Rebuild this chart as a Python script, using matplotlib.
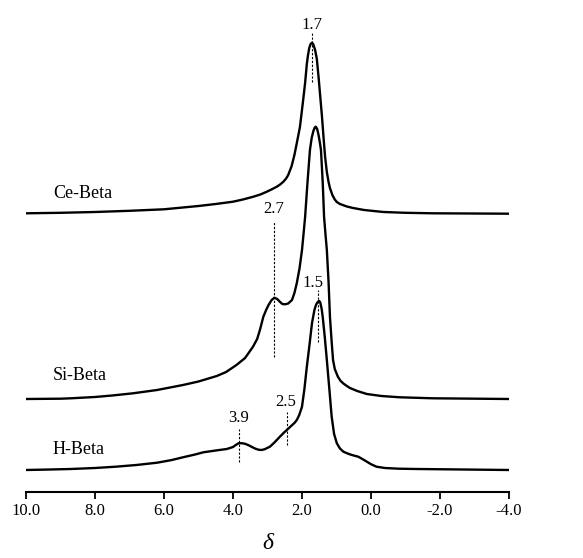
import matplotlib
matplotlib.use("Agg")
import matplotlib.pyplot as plt
from matplotlib.ticker import FuncFormatter, MultipleLocator

plt.rcParams['font.family'] = ['Liberation Serif', 'DejaVu Serif']

# chemical shift (ppm) and intensities (arbitrary units, offset stacked)
ce_x = [10.0, 9.0, 8.0, 7.0, 6.0, 5.0, 4.5, 4.0, 3.7, 3.41, 3.2, 3.02, 2.87, 2.73, 2.63, 2.54,
        2.46, 2.4, 2.3, 2.22, 2.15, 2.06, 1.98, 1.91, 1.86, 1.83, 1.79, 1.75, 1.71, 1.67, 1.62, 1.57,
        1.52, 1.47, 1.42, 1.37, 1.33, 1.28, 1.23, 1.19, 1.12, 1.05, 0.99, 0.9, 0.7, 0.52, 0.2, -0.36,
        -1.0, -1.8, -4.0]
ce_y = [278.7, 279.2, 280.0, 281.2, 282.7, 286.0, 288.0, 290.3, 292.6, 295.3, 297.6, 300.3, 302.8,
        305.3, 307.6, 310.3, 313.5, 317.0, 326.0, 337.0, 349.0, 365.0, 388.0, 409.0, 428.0, 436.0,
        444.0, 448.0, 449.3, 447.5, 442.0, 433.0, 415.0, 395.0, 375.0, 352.0, 335.0, 320.0, 310.0,
        304.0, 297.0, 292.5, 290.0, 288.0, 285.5, 284.0, 282.0, 280.0, 279.2, 278.7, 278.3]

si_x = [10.0, 9.0, 8.7, 8.0, 7.5, 6.9, 6.2, 5.45, 5.0, 4.47, 4.2, 3.9, 3.65, 3.42, 3.3, 3.22, 3.12,
        3.04, 2.97, 2.88, 2.8, 2.72, 2.65, 2.57, 2.49, 2.4, 2.29, 2.22, 2.15, 2.07, 2.0, 1.95, 1.91,
        1.84, 1.77, 1.72, 1.67, 1.63, 1.6, 1.56, 1.52, 1.48, 1.45, 1.4, 1.36, 1.32, 1.28, 1.23, 1.19,
        1.14, 1.1, 1.05, 0.96, 0.88, 0.8, 0.7, 0.61, 0.4, 0.12, -0.3, -0.84, -1.8, -4.0]
si_y = [93.0, 93.3, 93.7, 95.0, 96.5, 98.7, 102.0, 107.0, 110.5, 116.0, 120.0, 127.0, 134.0, 145.3,
        153.0, 162.0, 175.3, 182.0, 187.0, 192.0, 194.3, 193.0, 190.5, 188.0, 187.7, 188.5, 192.0,
        199.0, 209.0, 224.0, 242.0, 260.0, 275.0, 310.0, 342.0, 354.0, 361.0, 364.5, 365.3, 363.0,
        357.0, 349.0, 342.0, 310.0, 275.0, 258.0, 242.0, 210.0, 175.3, 150.0, 132.0, 123.0, 115.3,
        111.0, 108.5, 106.0, 104.0, 101.0, 98.0, 96.0, 94.7, 93.7, 93.0]

h_x = [10.0, 9.3, 8.7, 8.0, 7.4, 6.8, 6.2, 5.8, 5.45, 5.1, 4.86, 4.5, 4.18, 4.0, 3.92, 3.84, 3.75,
       3.65, 3.55, 3.45, 3.35, 3.25, 3.17, 3.08, 2.93, 2.8, 2.64, 2.52, 2.44, 2.3, 2.22, 2.15, 2.08,
       2.0, 1.93, 1.86, 1.78, 1.71, 1.64, 1.6, 1.57, 1.53, 1.5, 1.47, 1.43, 1.4, 1.34, 1.28, 1.2,
       1.14, 1.07, 0.99, 0.9, 0.8, 0.7, 0.6, 0.5, 0.37, 0.25, 0.12, 0.0, -0.16, -0.4, -0.8, -1.32,
       -4.0]
h_y = [22.0, 22.5, 23.0, 24.0, 25.3, 27.0, 29.3, 31.8, 34.7, 37.5, 39.7, 41.5, 43.0, 45.0, 47.0,
       48.7, 48.8, 48.2, 46.8, 45.0, 43.3, 42.2, 42.0, 42.8, 45.3, 49.5, 55.3, 59.5, 62.0, 66.5, 69.0,
       72.0, 77.0, 85.3, 103.0, 125.3, 148.0, 169.0, 182.0, 186.5, 188.7, 190.5, 191.0, 189.5,
       183.0, 175.3, 155.0, 132.0, 100.0, 75.3, 58.0, 48.7, 43.5, 40.3, 38.8, 37.5, 36.5, 35.3, 33.0,
       30.3, 27.8, 25.3, 24.0, 23.3, 23.0, 22.0]

series_names = ["Ce-Beta", "Si-Beta", "H-Beta"]
label_pos_y = [299, 116, 42]

peak_labels = ["1.7", "2.7", "1.5", "2.5", "3.9"]
peak_line_x = [1.72, 2.81, 1.55, 2.44, 3.84]
peak_text_x = [1.72, 2.81, 1.67, 2.46, 3.83]

fig = plt.figure(figsize=(5.83, 5.58), dpi=100)
ax = fig.add_axes([26 / 583, 66 / 558, 483 / 583, 482 / 558])

for xs, ys in [(ce_x, ce_y), (si_x, si_y), (h_x, h_y)]:
    ax.plot(xs, ys, color='black', lw=1.7, solid_joinstyle='round', solid_capstyle='round')

for name, yy in zip(series_names, label_pos_y):
    ax.text(9.22, yy, name, fontsize=13, ha='left', va='center')

# dashed guide lines: (bottom, top) extents and text y
line_spans = [(410, 460), (135, 270), (150, 202), (47, 80), (30, 63)]
text_y = [467, 283, 209, 90, 74]
for lx, tx, lab, (y0, y1), ty in zip(peak_line_x, peak_text_x, peak_labels, line_spans, text_y):
    ax.plot([lx, lx], [y0, y1], color='black', lw=0.8, ls=(0, (2.0, 1.5)))
    ax.text(tx, ty, lab, fontsize=12, ha='center', va='center')

ax.set_xlim(10, -4)
ax.set_ylim(0, 482)
ax.xaxis.set_major_locator(MultipleLocator(2))
ax.xaxis.set_major_formatter(FuncFormatter(lambda v, p: f"{v:.1f}".replace('\u2212', '-')))
ax.tick_params(axis='x', direction='out', length=5, width=1.3, labelsize=12, pad=3)
ax.set_yticks([])
for s in ['left', 'right', 'top']:
    ax.spines[s].set_visible(False)
ax.spines['bottom'].set_linewidth(1.5)
ax.set_xlabel('\u03b4', fontsize=17, fontstyle='italic', labelpad=10)

fig.savefig('out.png', dpi=100)
